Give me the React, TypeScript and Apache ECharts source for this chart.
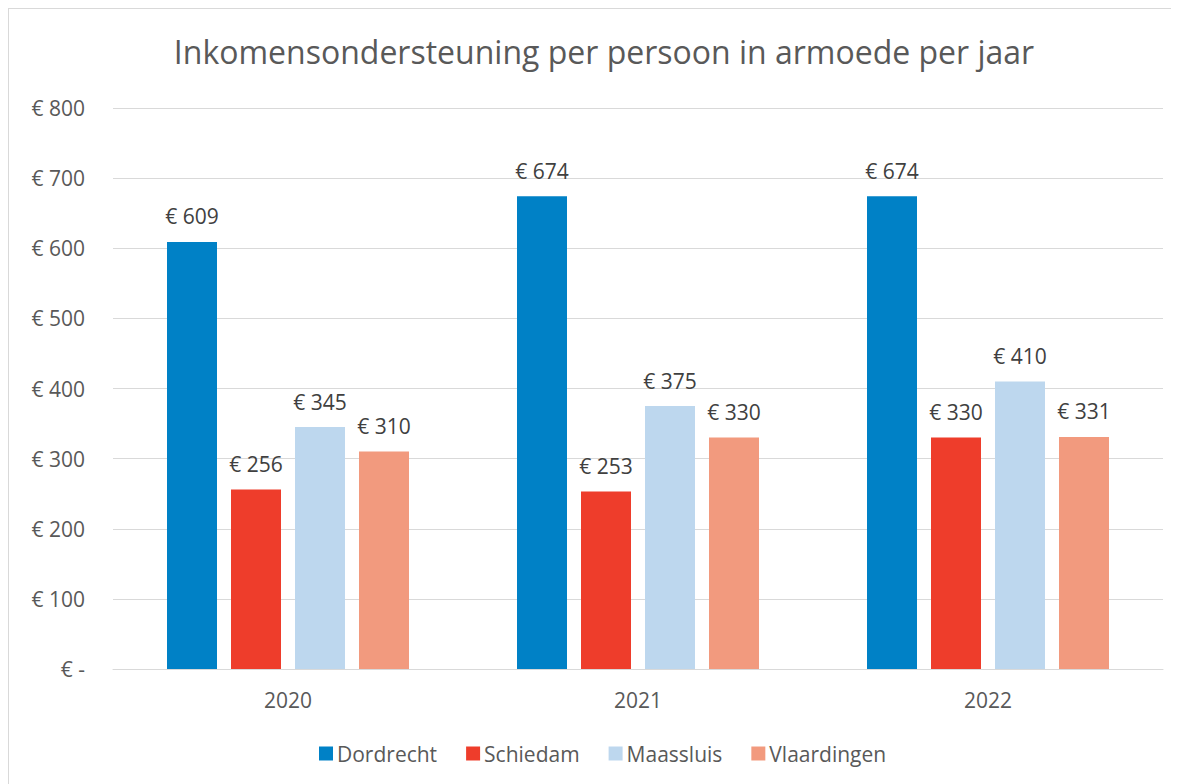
import React, { useEffect, useRef } from "react";
import * as echarts from "echarts";

const years = ["2020", "2021", "2022"];
const seriesNames = ["Dordrecht", "Schiedam", "Maassluis", "Vlaardingen"];
const dordrecht = [609, 674, 674];
const schiedam = [256, 253, 330];
const maassluis = [345, 375, 410];
const vlaardingen = [310, 330, 331];
const colors = ["#0081C6", "#EE3D2B", "#BDD7EE", "#F29A7E"];
const titleText = "Inkomensondersteuning per persoon in armoede per jaar";

const FONT = "'Open Sans', 'Noto Sans', sans-serif";

export default function App() {
  const ref = useRef<HTMLDivElement>(null);
  useEffect(() => {
    document.documentElement.style.overflow = "hidden";
    document.body.style.overflow = "hidden";
    if (!ref.current) return;
    const chart = echarts.init(ref.current, undefined, { renderer: "svg" });
    const values = [dordrecht, schiedam, maassluis, vlaardingen];
    chart.setOption({
      animation: false,
      backgroundColor: "#ffffff",
      title: {
        text: titleText,
        left: 590,
        top: 21,
        textAlign: "center",
        textStyle: { fontFamily: FONT, fontSize: 32, fontWeight: "normal", color: "#595959" },
      },
      legend: {
        data: seriesNames,
        left: 305,
        top: 729,
        icon: "rect",
        itemWidth: 14,
        itemHeight: 14,
        itemGap: 29,
        textStyle: { fontFamily: FONT, fontSize: 21, color: "#595959", padding: [0, 0, 0, -1] },
      },
      grid: { left: 104, top: 99, width: 1050, height: 561, containLabel: false },
      xAxis: {
        type: "category",
        data: years,
        axisLine: { lineStyle: { color: "#D9D9D9", width: 1 } },
        axisTick: { show: false },
        axisLabel: { fontFamily: FONT, fontSize: 21, color: "#595959", margin: 20 },
      },
      yAxis: {
        type: "value",
        min: 0,
        max: 800,
        interval: 100,
        axisLine: { show: false },
        axisTick: { show: false },
        splitLine: { lineStyle: { color: "#D9D9D9", width: 1 } },
        axisLabel: {
          fontFamily: FONT,
          fontSize: 21,
          color: "#595959",
          margin: 28,
          formatter: (v: number) => (v === 0 ? "€ -" : "€ " + v),
        },
      },
      series: seriesNames.map((name, i) => ({
        name,
        type: "bar",
        data: values[i],
        barWidth: 50,
        barGap: "28%",
        itemStyle: { color: colors[i] },
        label: {
          show: true,
          position: "top",
          distance: 15,
          fontFamily: FONT,
          fontSize: 21,
          color: "#404040",
          formatter: (p: any) => "€ " + p.value,
        },
      })),
    });
    return () => chart.dispose();
  }, []);
  return (
    <div style={{ width: 1171, height: 776, overflow: "hidden" }}>
      <div
        style={{
          width: 1180,
          height: 790,
          borderTop: "1px solid #D9D9D9",
          borderLeft: "1px solid #D9D9D9",
          boxSizing: "content-box",
        }}
      >
        <div ref={ref} style={{ width: 1180, height: 790 }} />
      </div>
    </div>
  );
}
